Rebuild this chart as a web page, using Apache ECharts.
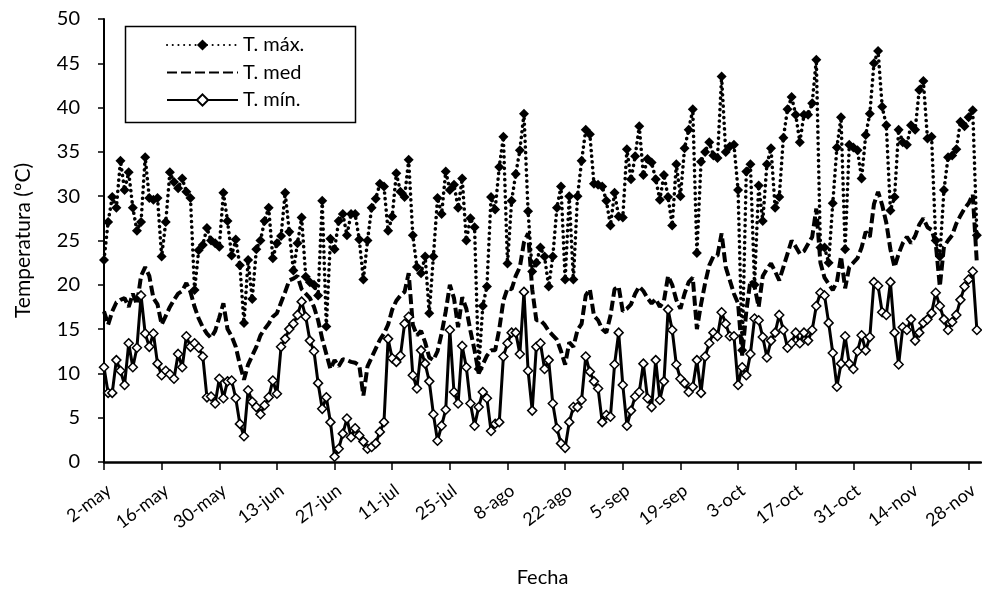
<!DOCTYPE html>
<html>
<head>
<meta charset="utf-8">
<script src="https://cdn.jsdelivr.net/npm/echarts@6/dist/echarts.min.js"></script>
<style>
  html, body { margin: 0; padding: 0; background: #fff; }
  #main { width: 982px; height: 594px; }
</style>
</head>
<body>
<div id="main"></div>
<script>
// tick labels every 14 days, starting 2-may
var tickLabels = ['2-may', '16-may', '30-may', '13-jun', '27-jun', '11-jul', '25-jul', '8-ago',
  '22-ago', '5-sep', '19-sep', '3-oct', '17-oct', '31-oct', '14-nov', '28-nov'];

// daily values, 2-may .. 30-nov
var tMax = [
  22.8, 27.1, 29.9, 28.7, 34.0, 30.7, 32.7, 28.7, 26.1, 27.1,
  34.4, 29.8, 29.6, 29.8, 23.2, 27.1, 32.7, 31.6, 30.9, 32.0,
  30.5, 29.8, 19.4, 23.9, 24.5, 26.4,
  25.0, 24.7, 24.3, 30.4, 27.2, 23.3, 25.1, 22.2, 15.7, 22.8,
  18.4, 24.0, 25.0, 27.2, 28.7, 23.0, 24.7, 25.5, 30.4, 26.0,
  21.6, 24.7, 27.6, 20.9, 20.3, 20.0, 18.8, 29.5, 15.3,
  25.2, 24.0, 27.2, 28.0, 25.6, 28.0, 28.0, 25.1, 20.6,
  25.0, 28.7, 29.7, 31.4, 31.1, 26.1, 27.7, 32.6, 30.5, 29.9,
  34.1, 25.6, 22.0, 21.3, 23.2,
  16.8, 23.2, 29.8, 28.0, 32.8, 30.7, 31.3, 28.7, 32.0, 25.0,
  27.5, 26.5, 10.5, 17.6, 19.8, 29.9, 28.5, 33.3, 36.7, 22.4,
  29.5, 32.5, 35.2, 39.3, 28.3, 21.5,
  22.5, 24.2, 23.2, 19.8, 23.2, 28.7, 31.1, 20.6, 30.0, 20.6,
  30.0, 34.0, 37.5, 37.0, 31.4, 31.3, 31.1, 29.5, 26.7, 30.4,
  27.7, 27.6, 35.3, 31.9, 34.5, 37.9, 32.4, 34.2,
  33.8, 31.9, 29.6, 32.4, 29.9, 26.7, 33.6, 30.0, 35.4, 37.5,
  39.8, 23.6, 33.9, 35.0, 36.1, 34.6, 34.3, 43.5, 35.0, 35.6,
  35.8, 30.7, 12.6, 32.8, 33.6, 20.0,
  31.2, 27.2, 33.6, 35.4, 28.7, 29.9, 36.6, 39.8, 41.2, 39.2,
  36.1, 39.2, 39.2, 40.5, 45.4,
  24.2, 24.2, 22.5, 29.2, 35.5, 38.9, 24.0, 35.8, 35.5, 35.2, 32.0,
  36.9, 39.3, 45.0, 46.4, 40.1, 38.0, 28.4, 29.9, 37.5, 36.1,
  35.8, 38.0, 37.5, 42.0, 43.0, 36.5, 36.7, 25.0, 23.2, 30.7,
  34.4, 34.6, 35.3, 38.4, 37.9, 38.9, 39.7, 25.6
];

var tMed = [
  17, 15.5, 17, 18, 18.3, 18.5, 17.5, 19, 17.8, 21,
  22, 21, 18.5, 17.8, 15.5, 16.5, 17.5, 18.3, 19, 19.3,
  20.2, 19.2, 17.5, 16.2, 15.2, 14.5, 14, 14.8, 16.3, 17.9,
  15, 14.2, 13, 11, 9.3, 11, 12, 13, 14.3, 15,
  15.6, 16.4, 16.8, 18, 19.2, 20.5, 20.7, 21, 19.5, 19,
  18.5, 17.5, 16, 13.9, 12.2, 10.5, 11.5, 10.8, 11.6, 11.5,
  11.3, 11.2, 10.9, 7.5, 10.8, 11.8, 12.8, 13.8, 14.5, 15.5,
  17.2, 18.2, 18.8, 19.2, 21.3, 15.5, 14.3, 14.8, 13.5, 11.8,
  11.5, 12.5, 14.5, 17, 20, 18.5, 15.2, 18.6, 17.3, 14.8,
  12.6, 10, 11, 12, 12.6, 12.6, 15, 18.2, 19.6, 19.5,
  21, 22, 24.8, 25.8, 19.5, 16, 16, 15.5, 14.8, 14.3,
  13.8, 12.5, 11, 13.5, 13, 14.9, 15.6, 18.8, 19.5, 16.5,
  16, 15, 14.6, 16.5, 19.5, 19.8, 17, 17.3, 17.8, 19,
  19.8, 19.3, 18.5, 17.9, 18.4, 17.5, 18.2, 21, 20, 18.3,
  17.3, 19, 20.3, 20.8, 15, 17.8, 20.2, 22.2, 23.2, 23.3,
  25.8, 22, 20.5, 19, 17.9, 12, 17, 20.5, 19.8, 17.5,
  21, 21.8, 22.4, 21.5, 20.5, 22, 23.5, 25, 24.3, 23.5,
  23.8, 24.6, 25.4, 28.6, 22.5, 20.8, 20.1, 19.4, 20.3, 23.2,
  19.6, 22, 22.5, 23, 24.2, 26, 25.4, 29.1, 30.5, 29,
  27, 24, 22, 23.5, 24.7, 25.4, 24.7, 25.5, 26.8, 27.5,
  26.5, 26.2, 24.7, 19.8, 24.3, 25, 25.6, 26.9, 27.8, 28.6,
  29.2, 30.2, 22.4
];

var tMin = [
  10.7, 7.8, 7.8, 11.5, 10.3, 8.7, 13.4, 10.7, 12.9, 18.8,
  14.5, 13.0, 14.5, 11.1, 9.8, 10.3, 9.9, 9.4, 12.2, 10.7,
  14.2, 13.0, 13.4, 12.9, 11.9, 7.3,
  7.4, 6.6, 9.4, 7.2, 9.1, 9.2, 7.2, 4.3, 2.9, 8.1,
  6.8, 6.2, 5.4, 6.4, 7.3, 9.2, 7.7, 13.0, 13.9, 15.0,
  15.6, 16.6, 18.1, 16.4, 13.7, 12.5,
  8.9, 6.0, 7.3, 4.5, 0.6, 1.5, 3.2, 4.9, 2.8, 3.8,
  3.0, 2.3, 1.5, 1.7, 2.1, 3.4, 4.5, 13.9, 11.7, 11.3,
  12.0, 15.6, 16.4, 9.8, 8.3, 12.6, 11.1,
  9.1, 5.4, 2.4, 4.1, 5.9, 14.9, 7.9, 6.6, 13.1, 10.7,
  6.6, 4.1, 6.2, 7.9, 7.2, 3.5, 4.3, 4.5, 11.9, 13.4,
  14.6, 14.6, 12.2, 19.2, 10.3, 5.8,
  13.0, 13.4, 10.5, 11.5, 6.6, 3.8, 2.1, 1.6, 4.5, 6.2,
  6.2, 7.0, 11.9, 10.2, 9.1, 8.3, 4.5, 5.3, 5.1, 11.0,
  14.6, 8.7, 4.1, 5.8, 7.4, 7.9, 11.1, 7.2,
  6.2, 11.5, 7.0, 9.1, 17.2, 14.9, 11.0, 9.4, 8.9, 7.9,
  8.5, 11.5, 7.8, 11.9, 13.4, 14.6, 14.2, 16.9, 15.6, 14.2,
  14.2, 8.7, 10.7, 9.8, 12.2, 16.2, 16.0,
  14.1, 11.8, 13.7, 14.6, 16.6, 14.9, 12.9, 13.4, 14.6, 13.4,
  14.6, 13.7, 14.9, 17.6, 19.1, 18.8, 15.7, 12.3, 8.5, 11.1,
  14.2, 11.1, 10.5, 12.5, 14.3,
  12.6, 14.1, 20.3, 19.9, 16.9, 16.6, 20.3, 14.6, 11.0, 15.2,
  14.9, 16.1, 13.7, 14.6, 15.7, 16.1, 16.8, 19.1, 17.6, 16.1,
  14.9, 15.8, 16.6, 18.3, 19.8, 20.6, 21.5, 14.9
];

function toPairs(arr) {
  return arr.map(function (v, i) { return [i, v]; });
}

var chart = echarts.init(document.getElementById('main'));
var font = 'Lato';

var option = {
  animation: false,
  textStyle: { fontFamily: font, color: '#000' },
  grid: { left: 104, right: 1, top: 19, bottom: 132 },
  // legend frame
  graphic: [{
    type: 'rect',
    shape: { x: 125.5, y: 26.5, width: 230, height: 96 },
    style: { fill: 'none', stroke: '#000', lineWidth: 1.5 }
  }],
  legend: {
    orient: 'vertical',
    left: 161,
    top: 30,
    itemWidth: 71,
    itemHeight: 14,
    itemGap: 7.5,
    textStyle: { fontSize: 20, color: '#000', fontFamily: font },
    data: [
      { name: 'T. máx.' },
      { name: 'T. med', itemStyle: { opacity: 0 } },
      { name: 'T. mín.' }
    ]
  },
  xAxis: {
    type: 'value',
    min: 0,
    max: 213,
    interval: 14,
    name: 'Fecha',
    nameLocation: 'middle',
    nameGap: 106,
    nameTextStyle: { fontSize: 20, color: '#000' },
    axisLine: { lineStyle: { color: '#000', width: 2.5 } },
    axisTick: { length: 8, lineStyle: { color: '#000', width: 1.5 } },
    axisLabel: {
      rotate: 37,
      margin: 30,
      fontSize: 18,
      color: '#000',
      padding: [0, -6, 0, 0],
      showMaxLabel: false,
      formatter: function (v) {
        return v % 14 === 0 ? tickLabels[v / 14] : '';
      }
    },
    splitLine: { show: false }
  },
  yAxis: {
    type: 'value',
    min: 0,
    max: 50,
    interval: 5,
    name: 'Temperatura (ºC)',
    nameLocation: 'middle',
    nameGap: 70,
    nameTextStyle: { fontSize: 21, color: '#000' },
    axisLine: { show: true, lineStyle: { color: '#000', width: 2 } },
    axisTick: { show: true, length: 6, lineStyle: { color: '#000', width: 1.5 } },
    axisLabel: { fontSize: 20, color: '#000', margin: 24 },
    splitLine: { show: false }
  },
  series: [
    {
      name: 'T. máx.',
      type: 'line',
      data: toPairs(tMax),
      symbol: 'diamond',
      symbolSize: 10,
      itemStyle: { color: '#000' },
      lineStyle: { color: '#000', width: 3.6, type: [0.1, 5.6], cap: 'round' }
    },
    {
      name: 'T. med',
      type: 'line',
      data: toPairs(tMed),
      symbol: 'none',
      itemStyle: { color: '#000' },
      lineStyle: { color: '#000', width: 4, type: [10, 4] }
    },
    {
      name: 'T. mín.',
      type: 'line',
      data: toPairs(tMin),
      symbol: 'diamond',
      symbolSize: 9,
      itemStyle: { color: '#fff', borderColor: '#000', borderWidth: 1.5 },
      lineStyle: { color: '#000', width: 3 }
    }
  ]
};

chart.setOption(option);
</script>
</body>
</html>
